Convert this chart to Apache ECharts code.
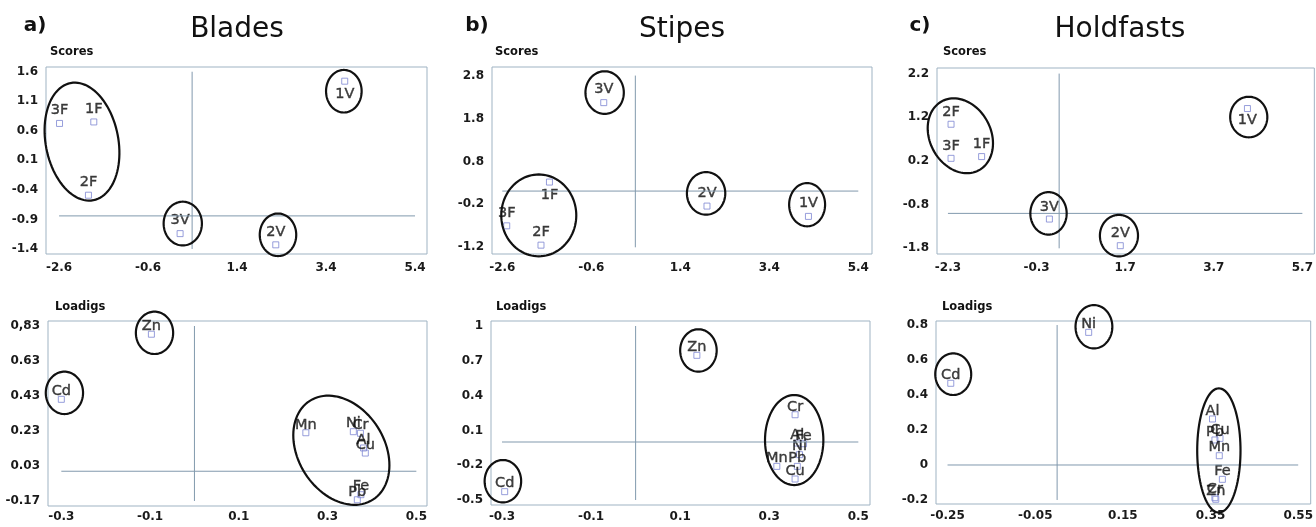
<!DOCTYPE html>
<html><head><meta charset="utf-8">
<script src="https://cdn.jsdelivr.net/npm/echarts@6/dist/echarts.min.js"></script>
<style>html,body{margin:0;padding:0;background:#fff}#c{width:1316px;height:527px}</style>
</head><body><div id="c"></div>
<script>
// ---------- data ----------
const scoreNames = ['1F','2F','3F','1V','2V','3V'];
const bladeScoreX = [-1.82, -1.94, -2.59, 3.82, 2.27, 0.12];
const bladeScoreY = [0.75, -0.49, 0.725, 1.44, -1.33, -1.14];
const stipeScoreX = [-1.54, -1.73, -2.50, 4.28, 2.00, -0.32];
const stipeScoreY = [0.32, -1.15, -0.70, -0.48, -0.24, 2.17];
const holdScoreX = [-1.54, -2.23, -2.23, 4.46, 1.59, -0.01];
const holdScoreY = [0.30, 1.04, 0.26, 1.40, -1.74, -1.13];

const bladeLoadNames = ['Zn','Cd','Mn','Ni','Cr','Al','Cu','Fe','Pb'];
const bladeLoadX = [-0.097, -0.30, 0.251, 0.358, 0.374, 0.381, 0.385, 0.375, 0.367];
const bladeLoadY = [0.783, 0.411, 0.22, 0.226, 0.217, 0.133, 0.104, -0.134, -0.163];
const stipeLoadNames = ['Zn','Cd','Cr','Al','Fe','Ni','Pb','Mn','Cu'];
const stipeLoadX = [0.1375, -0.294, 0.358, 0.363, 0.377, 0.368, 0.363, 0.317, 0.358];
const stipeLoadY = [0.747, -0.428, 0.235, -0.009, -0.015, -0.109, -0.21, -0.21, -0.319];
const holdLoadNames = ['Ni','Cd','Al','Pb','Cu','Mn','Fe','Cr','Zn'];
const holdLoadX = [0.072, -0.2426, 0.3545, 0.360, 0.3716, 0.370, 0.377, 0.360, 0.362];
const holdLoadY = [0.758, 0.467, 0.263, 0.143, 0.152, 0.053, -0.082, -0.187, -0.196];

// labels drawn under their point
const bladeScoreBelow = ['1V'];
const stipeScoreBelow = ['1F'];
const holdScoreBelow = ['1V'];

// tick labels
const scoreXTicksAB = [-2.6, -0.6, 1.4, 3.4, 5.4];
const scoreXTicksC = [-2.3, -0.3, 1.7, 3.7, 5.7];
const bladeScoreYTicks = [-1.4, -0.9, -0.4, 0.1, 0.6, 1.1, 1.6];
const stipeScoreYTicks = [-1.2, -0.2, 0.8, 1.8, 2.8];
const holdScoreYTicks = [-1.8, -0.8, 0.2, 1.2, 2.2];
const loadXTicksAB = [-0.3, -0.1, 0.1, 0.3, 0.5];
const loadXTicksC = [-0.25, -0.05, 0.15, 0.35, 0.55];
const bladeLoadYTicks = [-0.17, 0.03, 0.23, 0.43, 0.63, 0.83];
const bladeLoadYText = ['-0.17', '0.03', '0.23', '0.43', '0.63', '0,83'];
const stipeLoadYTicks = [-0.5, -0.2, 0.1, 0.4, 0.7, 1];
const holdLoadYTicks = [-0.2, 0, 0.2, 0.4, 0.6, 0.8];

// reference cross lines [x of vertical line, y of horizontal line]
const bladeScoreCross = [0.39, -0.84];
const stipeScoreCross = [0.39, 0.11];
const holdScoreCross = [0.21, -1.0];
const loadCross = [0, 0];

// group ellipses [centre x, centre y, radius x, radius y, tilt deg]
const bladeScoreEll = [[-2.085, 0.417, 0.816, 1.01, 11], [3.80, 1.27, 0.40, 0.36, 0], [0.18, -0.97, 0.43, 0.37, 0], [2.32, -1.16, 0.41, 0.36, 0]];
const bladeLoadEll = [[-0.09, 0.791, 0.042, 0.121, 0], [-0.293, 0.448, 0.042, 0.121, 0], [0.331, 0.12, 0.097, 0.335, 32.5]];
const stipeScoreEll = [[-1.78, -0.456, 0.843, 0.953, 0], [-0.30, 2.405, 0.431, 0.496, 0], [1.98, 0.056, 0.431, 0.496, 0], [4.25, -0.207, 0.404, 0.504, 0]];
const stipeLoadEll = [[0.141, 0.789, 0.041, 0.183, 0], [-0.298, -0.338, 0.041, 0.183, 0], [0.356, 0.017, 0.0655, 0.388, 0]];
const holdScoreEll = [[-2.02, 0.776, 0.69, 0.896, 28], [4.49, 1.206, 0.419, 0.464, 0], [-0.03, -1.0, 0.41, 0.487, 0], [1.56, -1.51, 0.43, 0.476, 0]];
const holdLoadEll = [[0.084, 0.79, 0.042, 0.124, 0], [-0.237, 0.519, 0.041, 0.119, 0], [0.369, 0.083, 0.0494, 0.355, 0]];

// ---------- layout ----------
const FONT = 'DejaVu Sans';
const BOX = '#9fb3c3';
const panels = [
  {grid:{left:46, top:67, width:381, height:187}, xr:[-2.894, 5.669], yr:[-1.485, 1.68], xt:scoreXTicksAB, yt:bladeScoreYTicks,
   names:scoreNames, xs:bladeScoreX, ys:bladeScoreY, below:bladeScoreBelow, ell:bladeScoreEll, cross:bladeScoreCross, off:13, xm:8},
  {grid:{left:48, top:321, width:379, height:185}, xr:[-0.330, 0.524], yr:[-0.1986, 0.8586], xt:loadXTicksAB, yt:bladeLoadYTicks, ytext:bladeLoadYText,
   names:bladeLoadNames, xs:bladeLoadX, ys:bladeLoadY, below:[], ell:bladeLoadEll, cross:loadCross, off:8, xm:5},
  {grid:{left:492, top:67, width:380, height:187}, xr:[-2.831, 5.708], yr:[-1.356, 3.0], xt:scoreXTicksAB, yt:stipeScoreYTicks,
   names:scoreNames, xs:stipeScoreX, ys:stipeScoreY, below:stipeScoreBelow, ell:stipeScoreEll, cross:stipeScoreCross, off:13, xm:8},
  {grid:{left:491, top:321, width:379, height:184}, xr:[-0.3247, 0.5262], yr:[-0.543, 1.043], xt:loadXTicksAB, yt:stipeLoadYTicks,
   names:stipeLoadNames, xs:stipeLoadX, ys:stipeLoadY, below:[], ell:stipeLoadEll, cross:loadCross, off:8, xm:6},
  {grid:{left:937, top:68, width:380, height:186}, xr:[-2.547, 5.97], yr:[-1.93, 2.328], xt:scoreXTicksC, yt:holdScoreYTicks,
   names:scoreNames, xs:holdScoreX, ys:holdScoreY, below:holdScoreBelow, ell:holdScoreEll, cross:holdScoreCross, off:12, xm:8},
  {grid:{left:936, top:321, width:380, height:183}, xr:[-0.2763, 0.5785], yr:[-0.223, 0.823], xt:loadXTicksC, yt:holdLoadYTicks,
   names:holdLoadNames, xs:holdLoadX, ys:holdLoadY, below:[], ell:holdLoadEll, cross:loadCross, off:8, xm:6}
];

function fmt(ticks, texts) {
  return function (v) {
    for (let i = 0; i < ticks.length; i++) {
      if (Math.abs(ticks[i] - v) < 1e-9) return texts ? texts[i] : String(ticks[i]);
    }
    return '';
  };
}

function ellipseItem(params, api) {
  const c = api.coord([api.value(0), api.value(1)]);
  const s = api.size([api.value(2), api.value(3)]);
  const th = api.value(4) * Math.PI / 180;
  const pts = [];
  for (let i = 0; i < 96; i++) {
    const t = i / 96 * 2 * Math.PI;
    const ex = s[0] * Math.cos(t), ey = s[1] * Math.sin(t);
    pts.push([c[0] + ex * Math.cos(th) + ey * Math.sin(th), c[1] - ex * Math.sin(th) + ey * Math.cos(th)]);
  }
  return {type:'polygon', shape:{points:pts}, silent:true,
          style:{fill:'transparent', stroke:'#111', lineWidth:2.2}};
}

const grids = [], xAxes = [], yAxes = [], series = [];
panels.forEach((p, k) => {
  grids.push(Object.assign({show:true, borderColor:BOX, borderWidth:1, backgroundColor:'#fff'}, p.grid));
  xAxes.push({type:'value', gridIndex:k, min:p.xr[0], max:p.xr[1],
    axisLine:{show:false}, axisTick:{show:false}, splitLine:{show:false},
    axisLabel:{customValues:p.xt, formatter:fmt(p.xt), margin:p.xm, fontFamily:FONT, fontWeight:'bold', fontSize:12, color:'#1a1a1a'}});
  yAxes.push({type:'value', gridIndex:k, min:p.yr[0], max:p.yr[1],
    axisLine:{show:false}, axisTick:{show:false}, splitLine:{show:false},
    axisLabel:{customValues:p.yt, formatter:fmt(p.yt, p.ytext), margin:8, fontFamily:FONT, fontWeight:'bold', fontSize:12, color:'#1a1a1a'}});
  const xt0 = p.xt[0], xt1 = p.xt[p.xt.length - 1], yt0 = p.yt[0], yt1 = p.yt[p.yt.length - 1];
  series.push({type:'line', xAxisIndex:k, yAxisIndex:k, symbol:'none', silent:true,
    lineStyle:{color:'#8199ad', width:1}, data:[[p.cross[0], yt0], [p.cross[0], yt1]]});
  series.push({type:'line', xAxisIndex:k, yAxisIndex:k, symbol:'none', silent:true,
    lineStyle:{color:'#8199ad', width:1}, data:[[xt0, p.cross[1]], [xt1, p.cross[1]]]});
  series.push({type:'scatter', xAxisIndex:k, yAxisIndex:k, symbol:'rect', symbolSize:6,
    itemStyle:{color:'rgba(255,255,255,0)', borderColor:'#7d86d2', borderWidth:1},
    data:p.xs.map((x, i) => ({value:[x, p.ys[i]], name:p.names[i],
      label:{offset:[0, p.below.indexOf(p.names[i]) >= 0 ? p.off : -p.off]}})),
    label:{show:true, position:'inside', formatter:'{b}', fontFamily:FONT, fontSize:14.5,
      color:'#111', textBorderWidth:0.4, textBorderColor:'#111'}});
  series.push({type:'custom', xAxisIndex:k, yAxisIndex:k, clip:false, renderItem:ellipseItem,
    encode:{x:0, y:1}, data:p.ell, z:5});
});

const txt = (x, y, text, font, align) => ({type:'text', x:x, y:y, silent:true,
  style:{text:text, font:font, fill:'#111', textAlign:align || 'center', textVerticalAlign:'middle'}});
const graphic = [
  txt(35, 26, 'a)', 'bold 20px "DejaVu Sans"'), txt(237, 30, 'Blades', '28px "DejaVu Sans"'),
  txt(477, 26, 'b)', 'bold 20px "DejaVu Sans"'), txt(682, 30, 'Stipes', '28px "DejaVu Sans"'),
  txt(920, 26, 'c)', 'bold 20px "DejaVu Sans"'), txt(1120, 30, 'Holdfasts', '28px "DejaVu Sans"'),
  txt(50, 52, 'Scores', 'bold 11.5px "DejaVu Sans"', 'left'),
  txt(495, 52, 'Scores', 'bold 11.5px "DejaVu Sans"', 'left'),
  txt(943, 52, 'Scores', 'bold 11.5px "DejaVu Sans"', 'left'),
  txt(55, 307, 'Loadigs', 'bold 11.5px "DejaVu Sans"', 'left'),
  txt(496, 307, 'Loadigs', 'bold 11.5px "DejaVu Sans"', 'left'),
  txt(942, 307, 'Loadigs', 'bold 11.5px "DejaVu Sans"', 'left')
];

const chart = echarts.init(document.getElementById('c'), null, {renderer:'canvas'});
chart.setOption({animation:false, backgroundColor:'#fff', grid:grids, xAxis:xAxes, yAxis:yAxes, series:series, graphic:graphic});
</script></body></html>
